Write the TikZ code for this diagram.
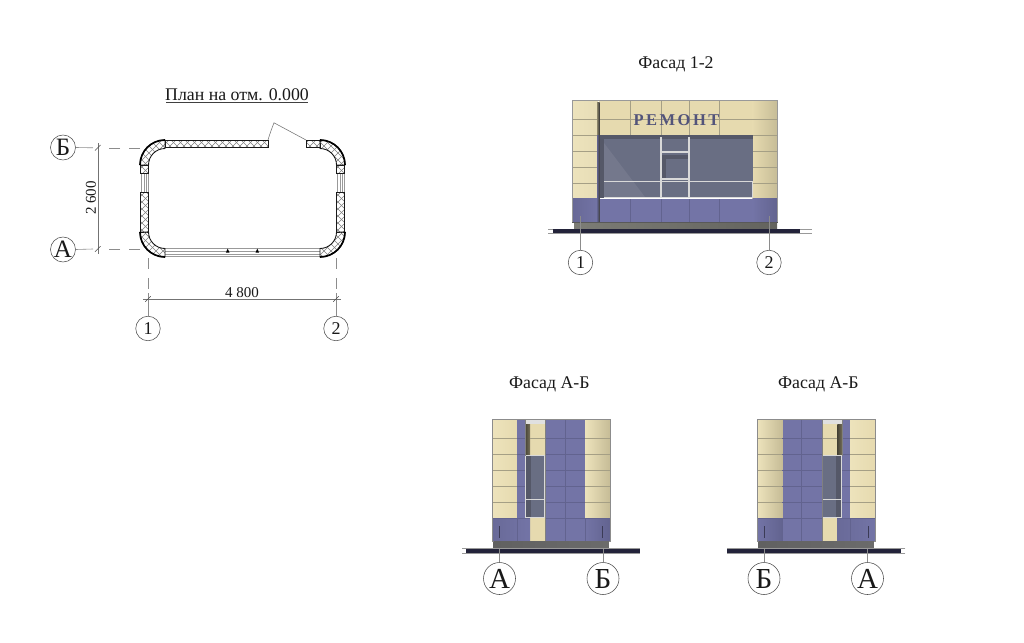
\documentclass[tikz,border=0pt]{standalone}
\usepackage{fontspec}
\setmainfont{Liberation Serif}
\newfontfamily\signfont[LetterSpace=15]{Liberation Serif}
\definecolor{beige}{HTML}{E6DAAF}
\definecolor{beigeD}{HTML}{C6BC96}
\definecolor{beigeL}{HTML}{EDE3BC}
\definecolor{purp}{HTML}{7374A6}
\definecolor{purpD}{HTML}{62638F}
\definecolor{glass}{HTML}{696E83}
\definecolor{glassD}{HTML}{555868}
\definecolor{joint}{HTML}{A59F85}
\definecolor{basegray}{HTML}{7C7C75}
\definecolor{groundc}{HTML}{23233A}
\tikzset{
  wall/.style={draw=black!90,line width=.9pt},
  hatchln/.style={draw=black!50,line width=.45pt},
  winln/.style={draw=black!40,line width=.65pt},
  axisln/.style={draw=black!45,line width=.6pt},
  axisdash/.style={axisln,dash pattern=on 11pt off 9pt},
  dimln/.style={draw=black!55,line width=.55pt},
  tick/.style={draw=black!70,line width=.55pt},
  bubble/.style={circle,draw=black!70,line width=.55pt,fill=white,inner sep=0pt,text=black!90},
  bubS/.style={bubble,minimum size=24.5pt,font=\fontsize{18}{18}\selectfont},
  bubM/.style={bubble,minimum size=25pt,font=\fontsize{25}{25}\selectfont},
  bubL/.style={bubble,minimum size=32pt,font=\fontsize{29}{29}\selectfont},
  title/.style={inner sep=0pt,font=\fontsize{17.8}{18}\selectfont,text=black!90},
  dimtxt/.style={inner sep=0pt,font=\fontsize{15}{15}\selectfont,text=black!90},
  jnt/.style={draw=joint,line width=.55pt},
  jntP/.style={draw=purpD,line width=.55pt},
  mull/.style={draw=white!85!black,line width=1.5pt},
}
\newcommand{\hatched}[1]{%
  \begin{scope}\clip #1;
    \foreach \d in {0,7,...,400}{
      \draw[hatchln] (\d,130) -- ({\d+130},260);
      \draw[hatchln] ({\d+130},130) -- (\d,260);
    }
  \end{scope}
  \draw[wall] #1;}
\newcommand{\cornerpath}[4]{(#1+#3*25,#2) .. controls (#1+#3*25,#2+#4*13.8) and (#1+#3*13.8,#2+#4*25) .. (#1,#2+#4*25) -- (#1,#2+#4*16.5) .. controls (#1+#3*9.1,#2+#4*16.5) and (#1+#3*16.5,#2+#4*9.1) .. (#1+#3*16.5,#2) -- cycle}
\newcommand{\outerarc}[4]{\draw[draw=black,line width=1.7pt] (#1+#3*25,#2) .. controls (#1+#3*25,#2+#4*13.8) and (#1+#3*13.8,#2+#4*25) .. (#1,#2+#4*25);}
\newcommand{\facadeAB}{%
  \fill[beige] (525,424) rectangle (545,542);
  \fill[white!88!black] (525,419.5) rectangle (545,424);
  \shade[left color=black!65!beigeD,right color=black!40!beigeD] (525,424) rectangle (530,456);
  \shade[left color=beigeL,right color=beige] (492.3,419.3) rectangle (517.3,518.3);
  \fill[purp] (517.3,419.3) rectangle (525,518.3);
  \fill[purp] (545,419.3) rectangle (585,518.3);
  \shade[left color=beigeL,middle color=beige,right color=beigeD] (585,419.3) rectangle (610,518.3);
  \shade[left color=purpD!60!purp,right color=purp] (492.3,518.3) rectangle (530,541.7);
  \fill[purp] (545,518.3) rectangle (585,541.7);
  \shade[left color=purp,right color=purpD] (585,518.3) rectangle (610,541.7);
  \fill[glass] (525.5,455.7) rectangle (544.5,517.3);
  \fill[glassD] (525.5,455.7) rectangle (531,517.3);
  \draw[mull,line width=.9pt] (525.5,455.7) rectangle (544.5,517.3);
  \draw[mull,line width=1.1pt] (525.5,499.3) -- (544.5,499.3);
  \foreach \y in {438.3,454.3,470,486,502.3}{
    \draw[jnt] (492.3,\y) -- (517.3,\y);
    \draw[jntP] (517.3,\y) -- (525,\y);
    \draw[jntP] (545,\y) -- (585,\y);
    \draw[jnt] (585,\y) -- (610,\y);
  }
  \draw[jnt] (530,438.3) -- (545,438.3);
  \draw[jntP] (492.3,518.3) -- (530,518.3) (545,518.3) -- (610,518.3);
  \draw[jntP] (565.7,419.3) -- (565.7,541.7);
  \draw[jntP] (517.3,518.3) -- (517.3,541.7) (585,518.3) -- (585,541.7);
  \draw[black!50,line width=.5pt] (525,419.3) -- (525,456) (545,419.3) -- (545,541.7);
  \draw[black!45,line width=.55pt] (492.3,419.3) rectangle (610,541.7);
  \draw[purpD!60!black,line width=.7pt] (499.3,526) -- (499.3,538) (602.7,526) -- (602.7,538);
  \shade[left color=black!62,middle color=basegray,right color=black!58] (493.5,541.7) rectangle (608.8,548.6);
  \draw[black!40,line width=.4pt] (462,548.3) -- (640,548.3) (462,552.7) -- (640,552.7);
  \fill[groundc] (466,548.6) rectangle (640,552.6);
}
\begin{document}
\begin{tikzpicture}[x=1pt,y=-1pt]
\useasboundingbox (0,0) rectangle (1024,642);
\fill[white] (0,0) rectangle (1024,642);

%%%%%%%%%%%%%%%% PLAN
\node[title] (tplan) at (237,95) {План на отм. 0.000};
\draw[black!75,line width=.7pt] (166,102.3) -- (308,102.3);

\node[bubM] (gB) at (63,147.5) {Б};
\node[bubM] (gA) at (63,249.5) {А};
\node[bubS] (g1) at (148,328.5) {1};
\node[bubS] (g2) at (336,328.5) {2};

\coordinate (bEnd) at (140,147.8);
\coordinate (aEnd) at (140,249);
\coordinate (oneEnd) at (148,258);
\coordinate (twoEnd) at (336,258);
\draw[axisln] (gB.east) -- (93,147.8);
\draw[axisdash] (bEnd) -- (103,147.8);
\draw[axisln] (gA.east) -- (93,249);
\draw[axisdash] (aEnd) -- (103,249);
\draw[axisln] (g1.north) -- (148,293);
\draw[axisdash] (oneEnd) -- (148,296);
\draw[axisln] (g2.north) -- (336,293);
\draw[axisdash] (twoEnd) -- (336,296);

% dimensions
\draw[dimln] (97.8,143) -- (97.8,254);
\draw[dimln] (143,299) -- (341,299);
\foreach \px/\py in {97.8/147.8,97.8/249,148/299,336/299}
  \draw[tick] (\px-2.8,\py+2.8) -- (\px+2.8,\py-2.8);
\node[dimtxt,rotate=90] (d26) at (91,198) {2 600};
\node[dimtxt] (d48) at (242,292.5) {4 800};

% windows
\foreach \wx in {141,144,146,148}{
  \draw[winln] (\wx,173) -- (\wx,192);
  \draw[winln] (\wx+196,173) -- (\wx+196,192);
}
\foreach \wy in {248.5,251,254,256.6}
  \draw[winln] (165,\wy) -- (320,\wy);
\foreach \tx in {227.7,257.3}
  \fill[black] (\tx,248.6) -- (\tx+1.8,252.6) -- (\tx-1.8,252.6) -- cycle;

% walls
\hatched{(165,140) rectangle (268,147.7)}
\hatched{(306,140) rectangle (320,147.7)}
\hatched{(140.3,192) rectangle (148.7,232)}
\hatched{(336.3,192) rectangle (344.7,232)}
\hatched{(140.5,165) rectangle (148.5,173)}
\hatched{(336.5,165) rectangle (344.5,173)}
\hatched{\cornerpath{165}{165}{-1}{-1}}
\hatched{\cornerpath{320}{165}{1}{-1}}
\hatched{\cornerpath{165}{232}{-1}{1}}
\hatched{\cornerpath{320}{232}{1}{1}}
\outerarc{165}{165}{-1}{-1}
\outerarc{320}{165}{1}{-1}
\outerarc{165}{232}{-1}{1}
\outerarc{320}{232}{1}{1}

% door
\coordinate (doorL) at (268,140);
\coordinate (doorTop) at (274,122.8);
\coordinate (doorR) at (306,140);
\draw[black!55,line width=.55pt] (doorL) .. controls (270,133) and (272,128) .. (doorTop) -- (doorR);

%%%%%%%%%%%%%%%% FACADE 1-2
\node[title] (t12) at (676,64) {Фасад 1-2};
\shade[left color=basegray,right color=basegray!80!black] (574,222) rectangle (777,229);
\draw[black!40,line width=.4pt] (548,229) -- (812,229) (548,233.3) -- (812,233.3);
\fill[groundc] (553,229.2) rectangle (799.5,233);
\fill[beige] (599,100) rectangle (753,135.3);
\shade[left color=beigeL,middle color=beige,right color=beigeL!85!beigeD] (572.3,100) rectangle (598,199);
\shade[left color=beige,middle color=beigeL,right color=beigeD] (752.7,100) rectangle (777.7,199);
\fill[glass] (599.3,135.3) rectangle (752.7,198.3);
\fill[glass!93!white] (604,143) -- (645,197) -- (604,197) -- cycle;
\fill[glassD] (599.3,135.3) rectangle (604,198.3);
\fill[glassD] (604,135.3) rectangle (752.7,139);
\fill[glassD] (662,155) rectangle (689,159);
\fill[glassD] (662,155) rectangle (666,179);
\draw[mull] (661,137) -- (661,198) (689,137) -- (689,198);
\draw[mull] (604,181.7) -- (752.5,181.7) (604,197.5) -- (752.5,197.5);
\draw[mull] (661,152) -- (689,152) (661,179) -- (689,179);
\draw[mull,line width=1pt] (752.2,181.7) -- (752.2,198);
\fill[purp] (599,198.8) rectangle (753,222.3);
\shade[left color=purpD!70!purp,middle color=purp,right color=purp] (572.3,198.8) rectangle (598,222.3);
\shade[left color=purp,middle color=purp,right color=purpD] (752.7,198.8) rectangle (777.7,222.3);
\foreach \jx in {630.7,661.3,689,719.7}{
  \draw[jnt] (\jx,100) -- (\jx,135);
  \draw[jntP] (\jx,199) -- (\jx,222.3);
}
\draw[jnt] (572.3,119.3) -- (777.7,119.3);
\foreach \y in {135.3,151.3,167.3,183.3}{
  \draw[jnt] (572.3,\y) -- (598,\y);
  \draw[jnt] (753,\y) -- (777.7,\y);
}
\draw[black!40,line width=.55pt] (572.3,100) rectangle (777.7,222.3);
\shade[left color=beigeD!70!black,right color=black!80] (597,102) rectangle (599.5,135.3);
\shade[left color=purpD,right color=black!75] (597,135.3) rectangle (599.5,222.3);
\draw[black!65,line width=.6pt] (572.3,222.3) -- (777.7,222.3);
\node[inner sep=0pt,text=purpD!85!black,font=\signfont\bfseries\fontsize{16.5}{17}\selectfont] (sign) at (676.5,120) {РЕМОНТ};
\node[bubS] (f1) at (580.5,262.5) {1};
\node[bubS] (f2) at (769,262.5) {2};
\coordinate (f1top) at (580.5,216);
\coordinate (f2top) at (769,216);
\draw[axisln] (f1.north) -- (f1top);
\draw[axisln] (f2.north) -- (f2top);

%%%%%%%%%%%%%%%% FACADE A-B (left)
\node[title] (tab1) at (549.3,384) {Фасад А-Б};
\facadeAB
\node[bubL] (s1a) at (499.5,578.5) {А};
\node[bubL] (s1b) at (603,578.5) {Б};
\coordinate (s1at) at (499.5,549);
\coordinate (s1bt) at (603,549);
\draw[axisln] (s1a.north) -- (s1at);
\draw[axisln] (s1b.north) -- (s1bt);

%%%%%%%%%%%%%%%% FACADE A-B (right, mirrored)
\node[title] (tab2) at (818.3,384) {Фасад А-Б};
\begin{scope}[xscale=-1,xshift=-1367.3pt]
\facadeAB
\end{scope}
\node[bubL] (s2b) at (764,578.5) {Б};
\node[bubL] (s2a) at (867.5,578.5) {А};
\coordinate (s2bt) at (764,549);
\coordinate (s2at) at (867.5,549);
\draw[axisln] (s2b.north) -- (s2bt);
\draw[axisln] (s2a.north) -- (s2at);
\end{tikzpicture}
\end{document}
